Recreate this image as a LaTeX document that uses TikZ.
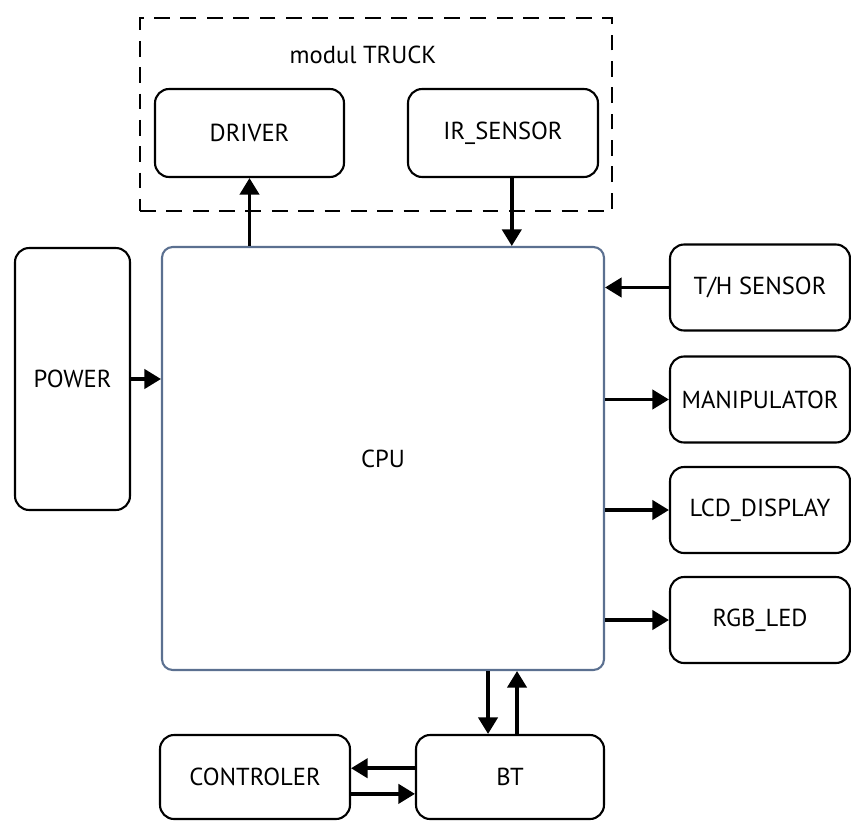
\documentclass[tikz,border=0pt]{standalone}
\usepackage{fontspec}
\setmainfont{PT Sans}
\usetikzlibrary{arrows.meta}
\definecolor{cpuline}{HTML}{5B7090}

\begin{document}
\begin{tikzpicture}[x=0.02cm, y=-0.02cm,
  blk/.style={draw, line width=1.2pt, rounded corners=8pt, inner sep=0pt,
              font=\fontsize{14}{16}\selectfont},
  side/.style={blk, minimum width=3.6cm, minimum height=1.72cm},
  arr/.style={line width=2pt, -{Triangle[length=9.5pt,width=11pt]}}]
  \useasboundingbox (0,0) rectangle (851,821);

  % modul TRUCK
  \node[draw, line width=1.2pt, dash pattern=on 9pt off 6pt, minimum width=9.44cm,
        minimum height=3.86cm, inner sep=0pt] (truck) at (376,114.5) {};
  \node[font=\fontsize{14}{16}\selectfont] (trucklbl) at (363,55) {modul TRUCK};
  \node[blk, minimum width=3.78cm, minimum height=1.76cm] (drv) at (249.5,133) {DRIVER};
  \node[blk, minimum width=3.8cm, minimum height=1.76cm] (ir) at (503,133) {IR\_SENSOR};

  % main blocks
  \node[blk, draw=cpuline, rounded corners=6pt, minimum width=8.84cm, minimum height=8.46cm] (cpu) at (383,458.5) {CPU};
  \node[blk, minimum width=2.3cm, minimum height=5.24cm] (pow) at (72.5,379) {POWER};
  \node[side] (th) at (760,287.5) {T/H SENSOR};
  \node[side] (man) at (760,399.5) {MANIPULATOR};
  \node[side] (lcd) at (760,510) {LCD\_DISPLAY};
  \node[side] (rgb) at (760,620) {RGB\_LED};
  \node[blk, minimum width=3.8cm, minimum height=1.68cm] (ctl) at (255,777) {CONTROLER};
  \node[blk, minimum width=3.76cm, minimum height=1.68cm] (bt) at (510,777) {BT};

  \path[arr]
  (cpu.north -| drv) edge (drv)
  ([xshift=5pt]ir.south) edge ([xshift=5pt]ir.south |- cpu.north)
  (pow) edge (pow -| cpu.west)
  (th) edge (th -| cpu.east)
  (cpu.east |- man) edge (man)
  (cpu.east |- lcd) edge (lcd)
  (cpu.east |- rgb) edge (rgb)
  ([xshift=-12.5pt]bt.north |- cpu.south) edge ([xshift=-12.5pt]bt.north)
  ([xshift=4pt]bt.north) edge ([xshift=4pt]bt.north |- cpu.south)
  ([yshift=5pt]bt.west) edge ([yshift=5pt]bt.west -| ctl.east)
  ([yshift=-9.6pt]ctl.east) edge ([yshift=-9.6pt]ctl.east -| bt.west)
  ;
\end{tikzpicture}
\end{document}
